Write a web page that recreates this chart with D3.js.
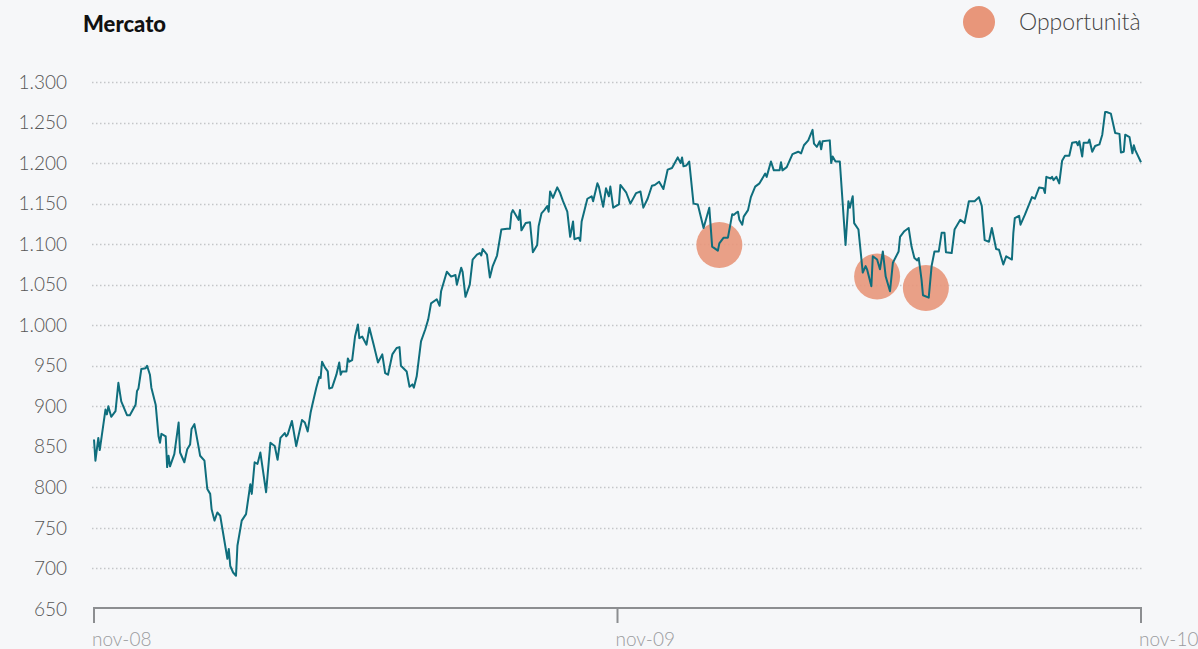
<!DOCTYPE html>
<html>
<head>
<meta charset="utf-8">
<script src="https://cdn.jsdelivr.net/npm/d3@7"></script>
<style>
  html, body { margin: 0; padding: 0; background: #f6f7f9; }
  body { width: 1198px; height: 649px; overflow: hidden; font-family: Lato, "Open Sans", sans-serif; }
  .tick-label { fill: #555; font-size: 19px; font-weight: 300; }
</style>
</head>
<body>
<div id="chart"></div>
<script>
// market index
const dates = [
  "2008-11-01","2008-11-02","2008-11-04","2008-11-05","2008-11-09","2008-11-10","2008-11-11","2008-11-13","2008-11-16","2008-11-18",
  "2008-11-20","2008-11-24","2008-11-26","2008-11-30","2008-12-01","2008-12-02","2008-12-04","2008-12-07","2008-12-08","2008-12-10",
  "2008-12-11","2008-12-14","2008-12-16","2008-12-17","2008-12-18","2008-12-21","2008-12-22","2008-12-23","2008-12-24","2008-12-27",
  "2008-12-30","2008-12-31","2009-01-03","2009-01-05","2009-01-07","2009-01-08","2009-01-10","2009-01-13","2009-01-14","2009-01-17",
  "2009-01-19","2009-01-21","2009-01-22","2009-01-24","2009-01-26","2009-01-28","2009-02-02","2009-02-03","2009-02-04","2009-02-06",
  "2009-02-08","2009-02-09","2009-02-12","2009-02-15","2009-02-18","2009-02-19","2009-02-21","2009-02-23","2009-02-25","2009-03-01",
  "2009-03-04","2009-03-07","2009-03-09","2009-03-11","2009-03-14","2009-03-15","2009-03-16","2009-03-19","2009-03-22","2009-03-23",
  "2009-03-26","2009-03-28","2009-03-30","2009-04-01","2009-04-02","2009-04-05","2009-04-07","2009-04-08","2009-04-09","2009-04-11",
  "2009-04-13","2009-04-14","2009-04-16","2009-04-19","2009-04-21","2009-04-22","2009-04-23","2009-04-26","2009-04-27","2009-04-28",
  "2009-04-30","2009-05-02","2009-05-04","2009-05-05","2009-05-07","2009-05-10","2009-05-12","2009-05-15","2009-05-18","2009-05-21",
  "2009-05-23","2009-05-25","2009-05-28","2009-05-31","2009-06-02","2009-06-03","2009-06-07","2009-06-09","2009-06-11","2009-06-12",
  "2009-06-14","2009-06-17","2009-06-20","2009-06-22","2009-06-24","2009-06-28","2009-06-30","2009-07-01","2009-07-05","2009-07-08",
  "2009-07-11","2009-07-12","2009-07-15","2009-07-16","2009-07-18","2009-07-21","2009-07-23","2009-07-26","2009-07-28","2009-07-29",
  "2009-07-30","2009-08-02","2009-08-04","2009-08-06","2009-08-09","2009-08-12","2009-08-16","2009-08-18","2009-08-19","2009-08-20",
  "2009-08-24","2009-08-25","2009-08-26","2009-08-29","2009-09-01","2009-09-03","2009-09-06","2009-09-07","2009-09-09","2009-09-11",
  "2009-09-13","2009-09-14","2009-09-15","2009-09-17","2009-09-20","2009-09-22","2009-09-24","2009-09-27","2009-09-29","2009-10-01",
  "2009-10-02","2009-10-05","2009-10-06","2009-10-07","2009-10-11","2009-10-14","2009-10-15","2009-10-18","2009-10-19","2009-10-22",
  "2009-10-24","2009-10-26","2009-10-27","2009-10-29","2009-11-02","2009-11-03","2009-11-07","2009-11-10","2009-11-14","2009-11-17",
  "2009-11-19","2009-11-22","2009-11-25","2009-11-27","2009-11-30","2009-12-03","2009-12-06","2009-12-09","2009-12-13","2009-12-15",
  "2009-12-16","2009-12-17","2009-12-19","2009-12-21","2009-12-24","2009-12-27","2009-12-31","2010-01-04","2010-01-06","2010-01-10",
  "2010-01-11","2010-01-14","2010-01-17","2010-01-20","2010-01-21","2010-01-23","2010-01-24","2010-01-25","2010-01-27","2010-01-28",
  "2010-01-31","2010-02-02","2010-02-05","2010-02-08","2010-02-12","2010-02-13","2010-02-16","2010-02-18","2010-02-22","2010-02-23",
  "2010-02-24","2010-02-27","2010-03-03","2010-03-07","2010-03-09","2010-03-11","2010-03-14","2010-03-17","2010-03-18","2010-03-20",
  "2010-03-22","2010-03-23","2010-03-24","2010-03-29","2010-03-30","2010-03-31","2010-04-02","2010-04-05","2010-04-09","2010-04-11",
  "2010-04-12","2010-04-14","2010-04-15","2010-04-18","2010-04-21","2010-04-23","2010-04-24","2010-04-27","2010-04-28","2010-05-01",
  "2010-05-03","2010-05-05","2010-05-07","2010-05-10","2010-05-12","2010-05-16","2010-05-17","2010-05-20","2010-05-23","2010-05-25",
  "2010-05-27","2010-05-29","2010-05-30","2010-06-01","2010-06-02","2010-06-06","2010-06-08","2010-06-10","2010-06-13","2010-06-15",
  "2010-06-17","2010-06-18","2010-06-22","2010-06-24","2010-06-28","2010-07-01","2010-07-04","2010-07-08","2010-07-11","2010-07-13",
  "2010-07-15","2010-07-18","2010-07-20","2010-07-23","2010-07-25","2010-07-28","2010-07-30","2010-08-03","2010-08-04","2010-08-05",
  "2010-08-08","2010-08-09","2010-08-12","2010-08-17","2010-08-19","2010-08-22","2010-08-25","2010-08-26","2010-08-27","2010-08-30",
  "2010-08-31","2010-09-01","2010-09-03","2010-09-05","2010-09-07","2010-09-09","2010-09-12","2010-09-14","2010-09-17","2010-09-18",
  "2010-09-19","2010-09-21","2010-09-22","2010-09-25","2010-09-26","2010-09-28","2010-09-30","2010-10-03","2010-10-05","2010-10-07",
  "2010-10-08","2010-10-11","2010-10-14","2010-10-17","2010-10-18","2010-10-20","2010-10-21","2010-10-24","2010-10-26","2010-10-27",
  "2010-10-28","2010-11-01"
];
const values = [
  859,833,861,846,896,890,900,887,894,929,
  906,889,889,902,919,922,946,947,950,939,
  923,902,863,855,866,863,825,839,826,841,
  880,843,831,847,853,872,878,849,839,833,
  798,792,773,759,769,765,712,724,703,695,
  691,728,759,767,804,792,831,829,843,794,
  855,851,834,861,867,863,865,882,851,859,
  883,880,869,892,900,923,936,935,955,948,
  943,922,923,939,954,939,943,943,959,955,
  957,986,1001,984,986,976,997,976,954,964,
  941,939,964,972,973,950,943,924,927,923,
  937,980,995,1007,1027,1032,1024,1042,1066,1060,
  1062,1050,1071,1066,1035,1050,1081,1087,1089,1086,
  1094,1087,1059,1073,1086,1118,1119,1119,1138,1142,
  1130,1142,1117,1126,1127,1090,1099,1122,1138,1142,
  1147,1140,1165,1157,1170,1163,1153,1140,1109,1128,
  1106,1108,1104,1128,1156,1159,1153,1175,1171,1146,
  1169,1159,1171,1145,1149,1173,1164,1150,1163,1165,
  1145,1156,1172,1173,1177,1168,1192,1194,1207,1200,
  1207,1196,1197,1202,1150,1149,1120,1145,1097,1092,
  1101,1108,1108,1137,1136,1139,1140,1130,1124,1134,
  1142,1158,1171,1175,1187,1183,1202,1191,1191,1201,
  1191,1195,1211,1214,1212,1222,1228,1241,1224,1220,
  1227,1217,1227,1228,1200,1208,1202,1202,1099,1153,
  1145,1159,1126,1118,1065,1073,1069,1048,1085,1081,
  1069,1091,1060,1042,1077,1091,1109,1116,1120,1097,
  1083,1080,1083,1056,1037,1034,1073,1091,1091,1114,
  1114,1090,1089,1118,1130,1126,1153,1153,1158,1147,
  1105,1103,1120,1094,1093,1075,1085,1081,1114,1132,
  1135,1124,1136,1158,1156,1170,1169,1163,1183,1181,
  1183,1179,1183,1175,1203,1209,1209,1225,1226,1222,
  1227,1208,1225,1225,1229,1214,1221,1223,1235,1263,
  1263,1261,1237,1236,1213,1214,1235,1232,1212,1222,
  1216,1201
];

// "Opportunità" markers
const oppDates = ["2010-01-11", "2010-05-01", "2010-06-04"];
const oppValues = [1099, 1060, 1046];

const yTicks = [650, 700, 750, 800, 850, 900, 950, 1000, 1050, 1100, 1150, 1200, 1250, 1300];
const xTicks = ["2008-11-01", "2009-11-01", "2010-11-01"];
const xTickLabels = ["nov-08", "nov-09", "nov-10"];

const width = 1198, height = 649;
const parse = d3.timeParse("%Y-%m-%d");
const data = dates.map((d, i) => ({ date: parse(d), value: values[i] }));
const opps = oppDates.map((d, i) => ({ date: parse(d), value: oppValues[i] }));

const x = d3.scaleTime()
  .domain([parse("2008-11-01"), parse("2010-11-01")])
  .range([94, 1141]);
const y = d3.scaleLinear()
  .domain([650, 1300])
  .range([609, 82]);

const itFormat = d3.formatLocale({ decimal: ",", thousands: ".", grouping: [3], currency: ["€", ""] }).format(",d");

const svg = d3.select("#chart").append("svg")
  .attr("width", width)
  .attr("height", height);

// grid lines
svg.append("g")
  .selectAll("line")
  .data(yTicks.filter(t => t > 650))
  .join("line")
  .attr("x1", 92)
  .attr("x2", 1144)
  .attr("y1", d => Math.round(y(d)) + 0.5)
  .attr("y2", d => Math.round(y(d)) + 0.5)
  .attr("stroke", "#c4c6c9")
  .attr("stroke-width", 1.5)
  .attr("stroke-dasharray", "1.5,2.5");

// y labels
svg.append("g")
  .selectAll("text")
  .data(yTicks)
  .join("text")
  .attr("class", "tick-label")
  .attr("x", 67)
  .attr("y", d => y(d))
  .attr("dy", "0.35em")
  .attr("text-anchor", "end")
  .text(d => itFormat(d));

// x axis
const xAxis = svg.append("g");
xAxis.append("line")
  .attr("x1", x.range()[0]).attr("x2", x.range()[1])
  .attr("y1", 608).attr("y2", 608)
  .attr("stroke", "#8c8e91").attr("stroke-width", 2);
xAxis.selectAll(".xt")
  .data(xTicks)
  .join("line")
  .attr("class", "xt")
  .attr("x1", d => x(parse(d))).attr("x2", d => x(parse(d)))
  .attr("y1", 607).attr("y2", 623)
  .attr("stroke", "#8c8e91").attr("stroke-width", 2);
xAxis.selectAll(".xl")
  .data(xTicks)
  .join("text")
  .attr("class", "xl tick-label")
  .attr("x", d => x(parse(d)) - 2)
  .attr("y", 646)
  .style("fill", "#9a9b9e")
  .text((d, i) => xTickLabels[i]);

// opportunity circles
svg.append("g")
  .selectAll("circle")
  .data(opps)
  .join("circle")
  .attr("cx", d => x(d.date))
  .attr("cy", d => y(d.value))
  .attr("r", 23)
  .attr("fill", "#e8967a")
  .attr("opacity", 0.9);

// line
svg.append("path")
  .datum(data)
  .attr("fill", "none")
  .attr("stroke", "#0f6e7d")
  .attr("stroke-width", 2)
  .attr("stroke-linejoin", "round")
  .attr("d", d3.line()
    .x(d => x(d.date))
    .y(d => y(d.value)));

// title
svg.append("text")
  .attr("x", 83)
  .attr("y", 32)
  .attr("fill", "#111")
  .style("font-size", "22px")
  .style("font-weight", 900)
  .text("Mercato");

// legend
svg.append("circle")
  .attr("cx", 979)
  .attr("cy", 22)
  .attr("r", 16)
  .attr("fill", "#e8967a");
svg.append("text")
  .attr("x", 1019)
  .attr("y", 22)
  .attr("dy", "0.35em")
  .attr("fill", "#444")
  .style("font-size", "23px")
  .style("font-weight", 300)
  .text("Opportunità");
</script>
</body>
</html>
